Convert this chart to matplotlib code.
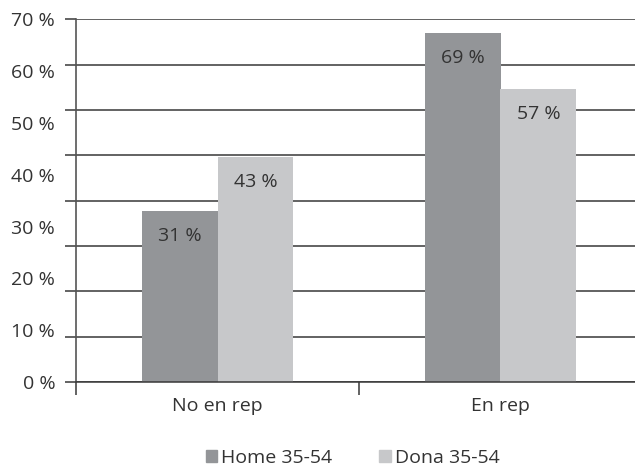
import numpy as np
import matplotlib
matplotlib.use('Agg')
import matplotlib.pyplot as plt
from matplotlib.patches import Patch

plt.rcParams['font.family'] = ['Open Sans', 'DejaVu Sans']

categories = ['No en rep', 'En rep']
series = ['Home 35-54', 'Dona 35-54']
# bar heights as drawn in the picture, and the printed labels
home = [33.0, 67.4]
dona = [43.5, 56.6]
home_labels = ['31 %', '69 %']
dona_labels = ['43 %', '57 %']
yticks = [0, 10, 20, 30, 40, 50, 60, 70]

c_home = '#939598'
c_dona = '#c7c8ca'
c_line = '#383838'
c_text = '#333333'
fs = 14

fig = plt.figure(figsize=(6.35, 4.67), dpi=100)
ax = fig.add_axes([76/635, 85/467, 566/635, 362.7/467])

x = np.arange(len(categories))
w = 0.268
b1 = ax.bar(x - w/2, home, w, color=c_home, zorder=2)
b2 = ax.bar(x + w/2, dona, w, color=c_dona, zorder=2)

for bars, labs in ((b1, home_labels), (b2, dona_labels)):
    for r, lab in zip(bars, labs):
        ax.annotate(lab, (r.get_x() + r.get_width()/2, r.get_height()),
                    xytext=(0, -18), textcoords='offset points',
                    ha='center', va='center', fontsize=fs, color=c_text, zorder=3)

ax.set_xlim(-0.5, 1.5)
ax.set_ylim(0, 70)

# labelled y ticks
ax.set_yticks(yticks)
ax.set_yticklabels([f'{v} %' for v in yticks])
ax.tick_params(axis='y', which='major', length=0, pad=15, labelsize=fs, labelcolor=c_text)
# gridlines (8 intervals)
ax.yaxis.remove_overlapping_locs = False
ax.set_yticks(np.linspace(0, 70, 9), minor=True)
ax.tick_params(axis='y', which='minor', length=8, width=1.1, color=c_line)
ax.grid(axis='y', which='minor', color=c_line, linewidth=1.1, zorder=1)

# x ticks: separators at category boundaries, labels at centers
ax.set_xticks([-0.5, 0.5])
ax.set_xticklabels(['', ''])
ax.tick_params(axis='x', which='major', length=9, width=1.1, color=c_line)
ax.set_xticks(x, minor=True)
ax.set_xticklabels(categories, minor=True)
ax.tick_params(axis='x', which='minor', length=0, pad=11, labelsize=fs, labelcolor=c_text)

for s in ('top', 'right'):
    ax.spines[s].set_visible(False)
ax.spines['left'].set_color('#555555')
ax.spines['bottom'].set_color(c_line)
ax.spines['left'].set_linewidth(1.2)
ax.spines['bottom'].set_linewidth(1.1)
ax.set_axisbelow(True)

handles = [Patch(color=c_home), Patch(color=c_dona)]
fig.legend(handles, series, loc='center', bbox_to_anchor=(0.555, 9/467), ncol=2,
           frameon=False, fontsize=fs, handlelength=0.6, handleheight=0.6,
           handletextpad=0.2, columnspacing=2.4, labelcolor=c_text)

fig.savefig('out.png', dpi=100)
